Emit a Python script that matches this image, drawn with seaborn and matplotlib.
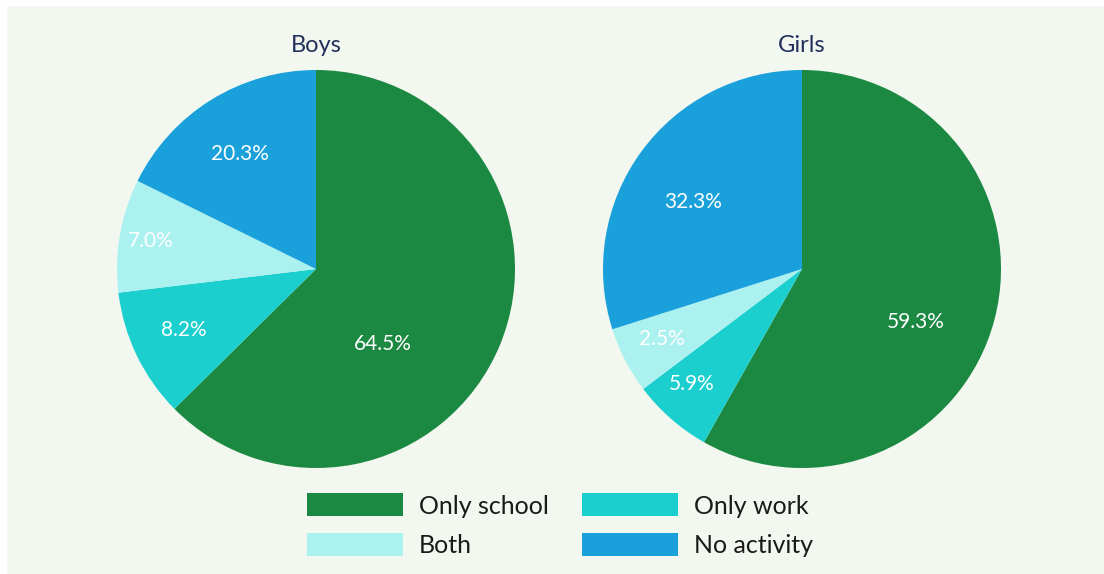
import matplotlib
matplotlib.use("Agg")
import matplotlib.pyplot as plt
import seaborn as sns
import numpy as np
from matplotlib.patches import Patch, Rectangle

categories = ["Only school", "Only work", "Both", "No activity"]
groups = ["Boys", "Girls"]
# wedge sizes as drawn in the picture
boys_share = [62.6, 10.5, 9.2, 17.7]
girls_share = [58.2, 6.5, 5.4, 29.9]
# printed labels
boys_labels = ["64.5%", "8.2%", "7.0%", "20.3%"]
girls_labels = ["59.3%", "5.9%", "2.5%", "32.3%"]

COLORS = ["#1c8943", "#1bcfcf", "#abf1f0", "#1aa1db"]
BG = "#f2f7f0"

# label placement per slice: radial fraction, angle shift from mid (deg)
LABEL_R = {"Boys": [0.505, 0.73, 0.845, 0.69], "Girls": [0.63, 0.80, 0.79, 0.64]}
LABEL_SHIFT = {"Boys": [-25.5, -0.8, 0, 1.6], "Girls": [-10, -2.4, -0.8, 4.7]}

sns.set_theme(style="white")
plt.rcParams["font.family"] = ["Lato", "DejaVu Sans"]

W, H = 1104, 574
fig = plt.figure(figsize=(W / 100, H / 100), dpi=100)
fig.patch.set_facecolor("white")
fig.patches.append(Rectangle((7 / W, 0), 1, (H - 6) / H, transform=fig.transFigure,
                             facecolor=BG, edgecolor="none", zorder=-10))

centers = [(316, 269), (802, 269)]
for (cx, cy), name, vals, labs in zip(centers, groups, [boys_share, girls_share],
                                      [boys_labels, girls_labels]):
    ax = fig.add_axes([(cx - 200) / W, (H - cy - 200) / H, 400 / W, 400 / H])
    ax.set_facecolor("none")
    wedges, _ = ax.pie(vals, colors=COLORS, startangle=90, counterclock=False,
                       radius=1, wedgeprops=dict(linewidth=0))
    for w, lab, r, sh in zip(wedges, labs, LABEL_R[name], LABEL_SHIFT[name]):
        ang = np.deg2rad((w.theta1 + w.theta2) / 2 + sh)
        ax.text(r * np.cos(ang), r * np.sin(ang), lab, color="white",
                ha="center", va="center", fontsize=15)
    ax.text(0, 1.125, name, ha="center", va="center", fontsize=17,
            color="#23305a")
    ax.set_xlim(-1.005, 1.005)
    ax.set_ylim(-1.005, 1.005)
    ax.set_aspect("equal")
    ax.axis("off")

handles = [Patch(facecolor=c, edgecolor="none", label=l) for c, l in zip(COLORS, categories)]
# row-major order: matplotlib fills legend columns first
order = [0, 2, 1, 3]
fig.legend(handles=[handles[i] for i in order], ncol=2, loc="center",
           bbox_to_anchor=(560 / W, 1 - 525 / H), frameon=False,
           handlelength=3.84, handleheight=1.04, handletextpad=0.64,
           columnspacing=1.36, labelspacing=0.6, labelcolor="#1a1a1a",
           prop={"size": 18})

fig.savefig("out.png", dpi=100, facecolor=fig.get_facecolor())
